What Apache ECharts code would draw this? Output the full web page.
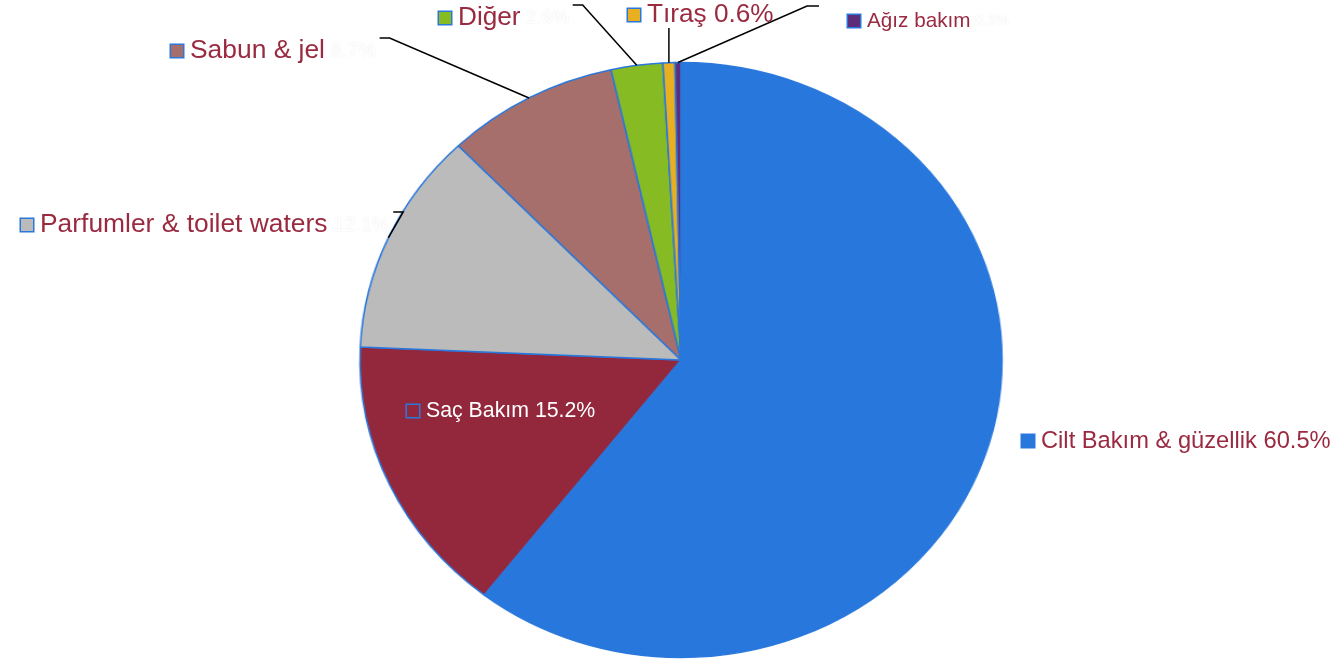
<!DOCTYPE html>
<html>
<head>
<meta charset="utf-8">
<script src="https://cdn.jsdelivr.net/npm/echarts@6/dist/echarts.min.js"></script>
<style>
  html, body { margin: 0; padding: 0; background: #ffffff; }
  .layer { position: absolute; left: 0; top: 0; width: 1338px; height: 660px; }
  /* the pie is drawn slightly wider than tall */
  #pie { transform: scaleX(1.079); transform-origin: 681px 360px; }
</style>
</head>
<body>
<div id="pie" class="layer"></div>
<div id="labels" class="layer"></div>
<script>
// Market share by product group (%)
const categories = ['Cilt Bakım & güzellik', 'Saç Bakım', 'Parfumler & toilet waters', 'Sabun & jel', 'Diğer', 'Tıraş', 'Ağız bakım'];
const shares = [60.5, 15.2, 12.1, 8.7, 2.6, 0.6, 0.3];

const sliceColors = ['#2877DC', '#93283D', '#BBBBBB', '#A66F6C', '#86BB24', '#E8B021', '#5E2D7A'];
const edgeBlue = '#2A78DC';
const labelRed = '#9A2A40';

const CX = 681, CY = 360, R = 297.5, SX = 1.079;

// label placement: left x of the key square, vertical middle, font size, value style, leader style
const labelSpots = [
  { x: 1022, y: 441, fs: 23.7, val: 'red',   line: null    },
  { x: 407,  y: 411, fs: 21.3, val: 'white', line: null    },
  { x: 21,   y: 225, fs: 26.4, val: 'ghost', line: 'right' },
  { x: 171,  y: 51,  fs: 26.4, val: 'ghost', line: 'right' },
  { x: 439,  y: 18,  fs: 26.2, val: 'ghost', line: 'right' },
  { x: 628,  y: 15,  fs: 26.2, val: 'red',   line: 'below' },
  { x: 848,  y: 21,  fs: 20.7, val: 'ghost', line: 'left'  }
];

const font = 'Liberation Sans, Arial, sans-serif';

function richFor(color, fs) {
  return {
    sq: { width: 12, height: 12, backgroundColor: color, borderColor: edgeBlue, borderWidth: 1.5 },
    g: { width: 7 },
    n: { fontSize: fs, color: labelRed, fontFamily: font },
    nw: { fontSize: fs, color: '#ffffff', fontFamily: font },
    ghost: { fontSize: Math.round(fs * 0.74), color: '#ffffff', fontFamily: font,
             textShadowColor: 'rgba(0,0,0,0.10)', textShadowBlur: 2 }
  };
}

function labelText(i) {
  const s = labelSpots[i];
  const pct = shares[i].toFixed(1) + '%';
  const name = categories[i];
  if (s.val === 'white') return '{sq| }{g|}{nw|' + name + ' ' + pct + '}';
  if (s.val === 'red') return '{sq| }{g|}{n|' + name + ' ' + pct + '}';
  return '{sq| }{g|}{n|' + name + '}{ghost| ' + pct + '}';
}

const pieData = categories.map((c, i) => ({
  name: c, value: shares[i], itemStyle: { color: sliceColors[i] }
}));

// slices
const pieChart = echarts.init(document.getElementById('pie'), null, { renderer: 'canvas' });
pieChart.setOption({
  animation: false,
  series: [{
    type: 'pie',
    center: [CX, CY],
    radius: R,
    startAngle: 90,
    clockwise: true,
    silent: true,
    label: { show: false },
    labelLine: { show: false },
    itemStyle: { borderColor: edgeBlue, borderWidth: 1.5 },
    data: pieData
  }]
});

// labels with leader lines
const labelData = categories.map((c, i) => ({
  name: c, value: shares[i],
  itemStyle: { color: 'rgba(0,0,0,0)', borderWidth: 0 },
  label: { formatter: labelText(i), rich: richFor(sliceColors[i], labelSpots[i].fs) },
  labelLine: { show: !!labelSpots[i].line }
}));

const labelChart = echarts.init(document.getElementById('labels'), null, { renderer: 'canvas' });
labelChart.setOption({
  animation: false,
  series: [{
    type: 'pie',
    center: [CX, CY],
    radius: R,
    startAngle: 90,
    clockwise: true,
    silent: true,
    avoidLabelOverlap: false,
    label: { show: true, position: 'outside' },
    labelLine: { show: true, length: 10, length2: 10, lineStyle: { color: '#000000', width: 1.5 } },
    labelLayout: function (p) {
      const s = labelSpots[p.dataIndex];
      const w = p.labelRect.width;
      const out = { x: s.x, y: s.y, align: 'left', verticalAlign: 'middle' };
      if (s.line && p.labelLinePoints) {
        const e = p.labelLinePoints[0];
        const a = Math.atan2(e[1] - CY, e[0] - CX);
        const edge = [CX + Math.cos(a) * R * SX, CY + Math.sin(a) * R];
        let p1, p2;
        if (s.line === 'right') {
          p2 = [s.x + w + 2, s.y - 13];
          p1 = [s.x + w + 12, s.y - 13];
        } else if (s.line === 'left') {
          p2 = [s.x - 29, s.y - 15];
          p1 = [s.x - 41, s.y - 15];
        } else {
          p2 = [edge[0], s.y + 13];
          p1 = [edge[0], s.y + 13];
        }
        out.labelLinePoints = [edge, p1, p2];
      }
      return out;
    },
    data: labelData
  }]
});
</script>
</body>
</html>
